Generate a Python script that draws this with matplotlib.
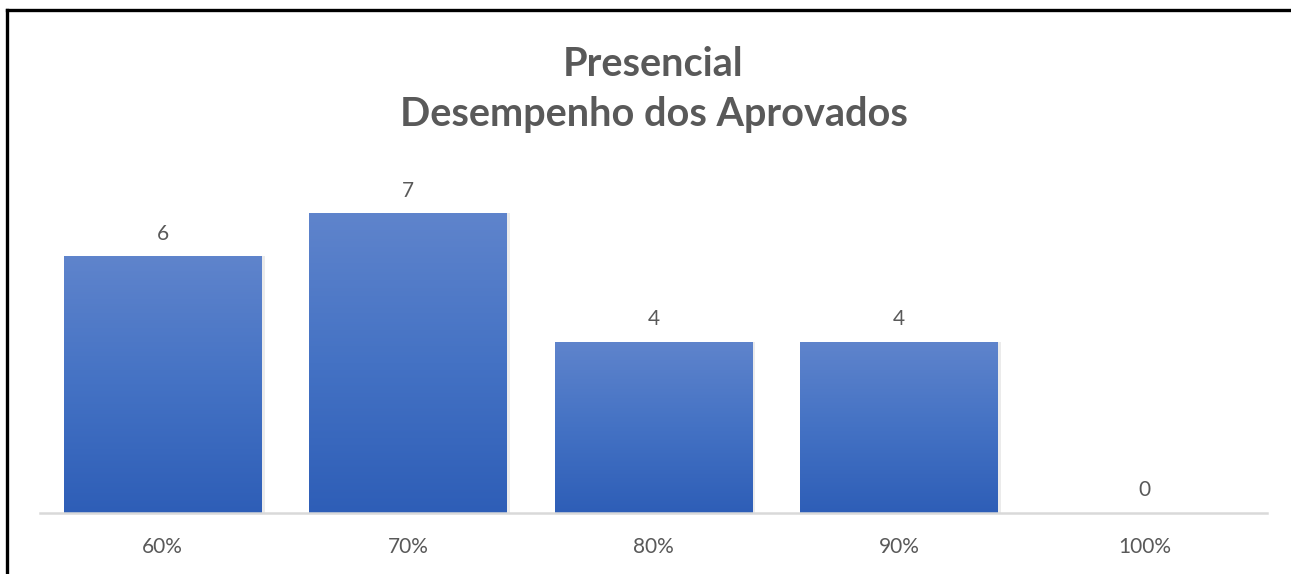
import numpy as np
import matplotlib.pyplot as plt
from matplotlib.lines import Line2D
from matplotlib.colors import LinearSegmentedColormap

# Dados do gráfico
categorias = ['60%', '70%', '80%', '90%', '100%']
aprovados = [6, 7, 4, 4, 0]
titulo_1 = 'Presencial'
titulo_2 = 'Desempenho dos Aprovados'

cinza = '#595959'
plt.rcParams['font.family'] = ['Lato', 'DejaVu Sans']

W, H = 1291, 574
fig = plt.figure(figsize=(W / 100, H / 100), dpi=100)
ax = fig.add_axes([40 / W, 61 / H, 1227 / W, 342.4 / H])

x = np.arange(len(categorias))
barras = ax.bar(x, aprovados, width=0.806, color='none', zorder=2)

# Degradê vertical em cada barra (mais claro em cima)
cmap = LinearSegmentedColormap.from_list('azul', ['#2E5EB7', '#4472C4', '#5F84CC'])
grad = np.linspace(0, 1, 256).reshape(-1, 1)
for b in barras:
    if b.get_height() <= 0:
        continue
    x0, w, h = b.get_x(), b.get_width(), b.get_height()
    # sombra leve
    ax.bar(x0 + w / 2 + 0.012, h, width=w, color='#000000', alpha=0.08,
           zorder=1, linewidth=0)
    im = ax.imshow(grad, extent=(x0, x0 + w, 0, h), origin='lower',
                   cmap=cmap, aspect='auto', zorder=2)
    im.set_clip_path(b)

for xi, v in zip(x, aprovados):
    ax.annotate(str(v), (xi, v), xytext=(0, 12), textcoords='offset points',
                ha='center', va='baseline', fontsize=15, color=cinza)

ax.set_xlim(-0.5, len(categorias) - 0.5)
ax.set_ylim(0, 8)
ax.set_xticks(x)
ax.set_xticklabels(categorias, fontsize=15, color=cinza)
ax.tick_params(axis='x', length=0, pad=17)
ax.set_yticks([])
for s in ['top', 'right', 'left']:
    ax.spines[s].set_visible(False)
ax.spines['bottom'].set_color('#D9D9D9')
ax.spines['bottom'].set_linewidth(1.8)

fig.text(653.5 / W, 1 - 76 / H, titulo_1, ha='center', va='baseline',
         fontsize=28.5, fontweight='bold', color=cinza)
fig.text(653.5 / W, 1 - 126 / H, titulo_2, ha='center', va='baseline',
         fontsize=28.5, fontweight='bold', color=cinza)

# Moldura preta (topo e esquerda)
fig.add_artist(Line2D([7 / W, 1], [1 - 10 / H, 1 - 10 / H],
                      color='black', lw=2.4, transform=fig.transFigure))
fig.add_artist(Line2D([7 / W, 7 / W], [0, 1 - 10 / H],
                      color='black', lw=2.4, transform=fig.transFigure))

fig.savefig('out.png', dpi=100)
